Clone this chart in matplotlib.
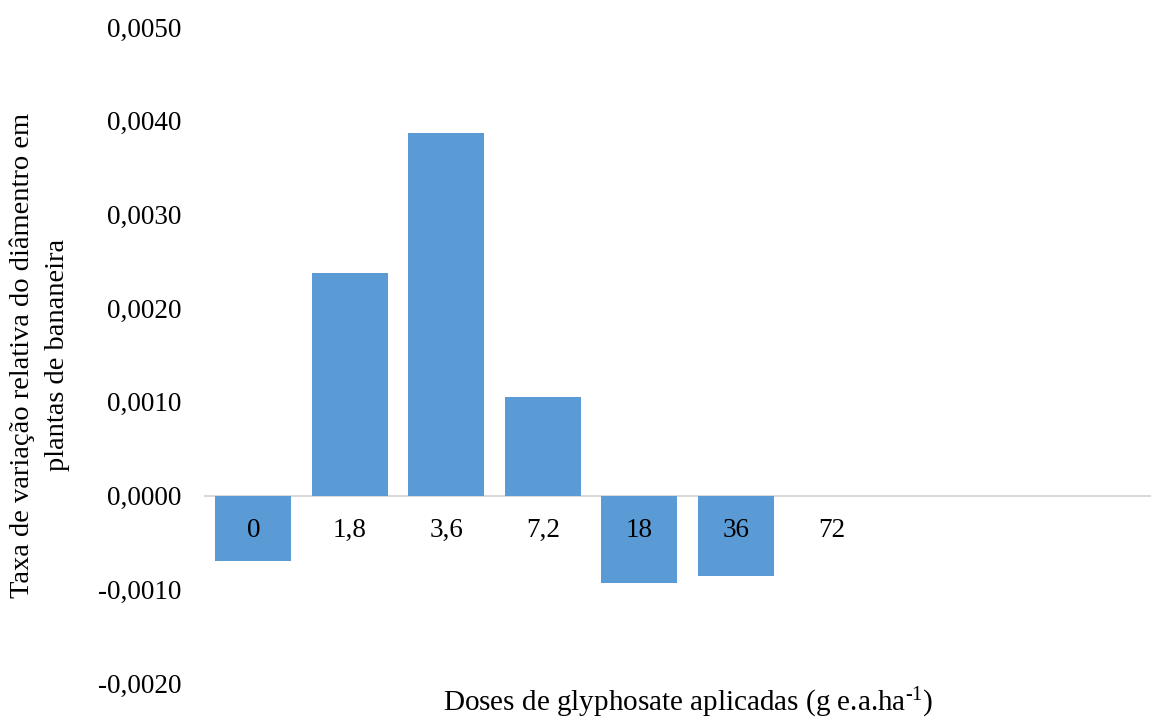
import matplotlib
matplotlib.use("Agg")
import matplotlib.pyplot as plt
from matplotlib.ticker import FuncFormatter

plt.rcParams['font.family'] = ['Liberation Serif', 'DejaVu Serif']
plt.rcParams['mathtext.fontset'] = 'custom'
plt.rcParams['mathtext.rm'] = 'Liberation Serif'
plt.rcParams['mathtext.it'] = 'Liberation Serif:italic'

categories = ["0", "1,8", "3,6", "7,2", "18", "36", "72"]
values = [-0.00070, 0.00238, 0.00387, 0.00105, -0.00093, -0.00086, 0.0]
yticks = [-0.0020, -0.0010, 0.0, 0.0010, 0.0020, 0.0030, 0.0040, 0.0050]

W, H = 1157, 718
fig = plt.figure(figsize=(W / 100, H / 100), dpi=100)
ax = fig.add_axes([205 / W, 1 - 683 / H, (1150 - 205) / W, (683 - 27) / H])

x = list(range(len(categories)))
ax.bar(x, values, width=0.79, color='#5B9BD5', zorder=1)
ax.set_axisbelow(False)

ax.set_ylim(-0.0020, 0.0050)
ax.set_xlim(-0.5, -0.5 + 945 / 96.5)
ax.set_yticks(yticks)
ax.yaxis.set_major_formatter(FuncFormatter(lambda v, p: f"{v:.4f}".replace('.', ',').replace('-0,0000', '0,0000')))
ax.set_xticks(x)
ax.set_xticklabels(categories)

for s in ['top', 'right', 'left']:
    ax.spines[s].set_visible(False)
ax.spines['bottom'].set_position(('data', 0))
ax.spines['bottom'].set_color('#D9D9D9')
ax.spines['bottom'].set_linewidth(1.5)
ax.spines['bottom'].set_zorder(0.5)

ax.tick_params(axis='both', length=0, labelsize=19.5, colors='black')
ax.tick_params(axis='y', pad=17)
ax.tick_params(axis='x', pad=16)

fig.text(688 / W, 1 - 703 / H, r"Doses de glyphosate aplicadas (g e.a.ha$^{\text{-1}}$)",
         ha='center', va='center', fontsize=21)
fig.text(40 / W, 1 - 355 / H, "Taxa de variação relativa do diâmentro em\nplantas de bananeira",
         ha='center', va='center', rotation=90, fontsize=20.5, multialignment='center',
         linespacing=1.55)

fig.savefig("out.png", dpi=100)
